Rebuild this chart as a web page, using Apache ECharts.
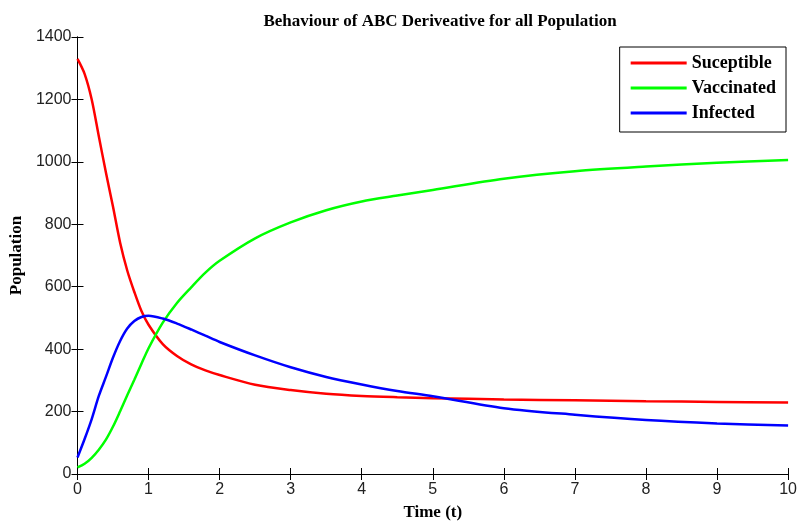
<!DOCTYPE html>
<html>
<head>
<meta charset="utf-8">
<script src="https://cdn.jsdelivr.net/npm/echarts@6/dist/echarts.min.js"></script>
<style>
  html, body { margin: 0; padding: 0; background: #fff; }
  #main { width: 800px; height: 526px; }
</style>
</head>
<body>
<div id="main"></div>
<script>
// time points (t)
var timeData = [0, 0.1, 0.2, 0.3, 0.4, 0.5, 0.6, 0.7, 0.8, 0.9, 1.0, 1.2, 1.4, 1.6, 1.8, 2.0, 2.5, 3, 3.5, 4, 4.5, 5, 6, 7, 8, 9, 10]
var suceptible = [1330, 1282, 1200, 1082, 966, 856, 741, 652, 583, 522, 478, 416, 378, 351, 332, 317, 286, 269, 257, 250, 246, 243, 239, 236, 233, 231, 229]
var vaccinated = [21, 33, 52, 78, 110, 152, 201, 252, 302, 353, 403, 485, 548, 598, 645, 683, 755, 806, 845, 873, 892, 910, 946, 970, 985, 997, 1006]
var infected = [53, 112, 176, 250, 311, 373, 426, 466, 490, 503, 507, 498, 482, 463, 443, 423, 380, 342, 311, 287, 266, 249, 211, 190, 173, 162, 155]
var seriesNames = ['Suceptible', 'Vaccinated', 'Infected']
var seriesColors = ['#ff0000', '#00ff00', '#0000ff']

function pairs(ys) {
  let out = []
  for (let i = 0; i < timeData.length; i++) {
    out.push([timeData[i], ys[i]])
  }
  return out
}

var chart = echarts.init(document.getElementById('main'), null, { renderer: 'canvas' })

var serifBold = {
  fontFamily: '"Liberation Serif", "DejaVu Serif", serif',
  fontWeight: 'bold',
  color: '#000'
}

var tickStyle = {
  show: true,
  inside: true,
  length: 6,
  lineStyle: { color: '#000', width: 1 }
}

var labelStyle = {
  fontSize: 16,
  color: '#222',
  fontFamily: '"Liberation Sans", Arial, sans-serif',
  formatter: function (v) { return String(v) }
}

function makeLine(name, ys, color) {
  return {
    name: name,
    type: 'line',
    data: pairs(ys),
    smooth: 0.3,
    symbol: 'none',
    lineStyle: { color: color, width: 2.5 },
    itemStyle: { color: color }
  }
}

var option = {
  backgroundColor: '#fff',
  animation: false,
  title: {
    text: 'Behaviour of ABC Deriveative for all Population',
    left: 435,
    textAlign: 'center',
    top: 8,
    textStyle: Object.assign({ fontSize: 17 }, serifBold)
  },
  legend: {
    data: seriesNames,
    orient: 'vertical',
    right: 14,
    top: 47,
    icon: 'rect',
    itemWidth: 56,
    itemHeight: 3,
    itemGap: 7,
    padding: [7, 10, 10, 11],
    borderColor: '#000',
    borderWidth: 1,
    borderRadius: 0,
    backgroundColor: '#fff',
    textStyle: Object.assign({ fontSize: 18, lineHeight: 18 }, serifBold)
  },
  grid: {
    left: 77,
    right: 6,
    top: 37,
    bottom: 51
  },
  xAxis: [{
    type: 'value',
    min: 0,
    max: 10,
    interval: 1,
    name: 'Time (t)',
    nameLocation: 'middle',
    nameGap: 30,
    nameTextStyle: Object.assign({ fontSize: 17 }, serifBold),
    axisLine: { show: true, lineStyle: { color: '#000', width: 1 } },
    axisTick: tickStyle,
    axisLabel: Object.assign({ margin: 8 }, labelStyle),
    splitLine: { show: false }
  }, {
    type: 'value',
    position: 'top',
    min: 0,
    max: 10,
    interval: 1,
    axisLine: { show: true, lineStyle: { color: '#000', width: 1 } },
    axisTick: tickStyle,
    axisLabel: { show: false },
    splitLine: { show: false }
  }],
  yAxis: [{
    type: 'value',
    min: 0,
    max: 1400,
    interval: 200,
    name: 'Population',
    nameLocation: 'middle',
    nameGap: 52,
    nameTextStyle: Object.assign({ fontSize: 17 }, serifBold),
    axisLine: { show: true, lineStyle: { color: '#000', width: 1 } },
    axisTick: tickStyle,
    axisLabel: Object.assign({ margin: 6 }, labelStyle),
    splitLine: { show: false }
  }, {
    type: 'value',
    position: 'right',
    min: 0,
    max: 1400,
    interval: 200,
    axisLine: { show: true, lineStyle: { color: '#000', width: 1 } },
    axisTick: tickStyle,
    axisLabel: { show: false },
    splitLine: { show: false }
  }],
  series: [
    makeLine(seriesNames[0], suceptible, seriesColors[0]),
    makeLine(seriesNames[1], vaccinated, seriesColors[1]),
    makeLine(seriesNames[2], infected, seriesColors[2])
  ]
}

chart.setOption(option)
</script>
</body>
</html>
